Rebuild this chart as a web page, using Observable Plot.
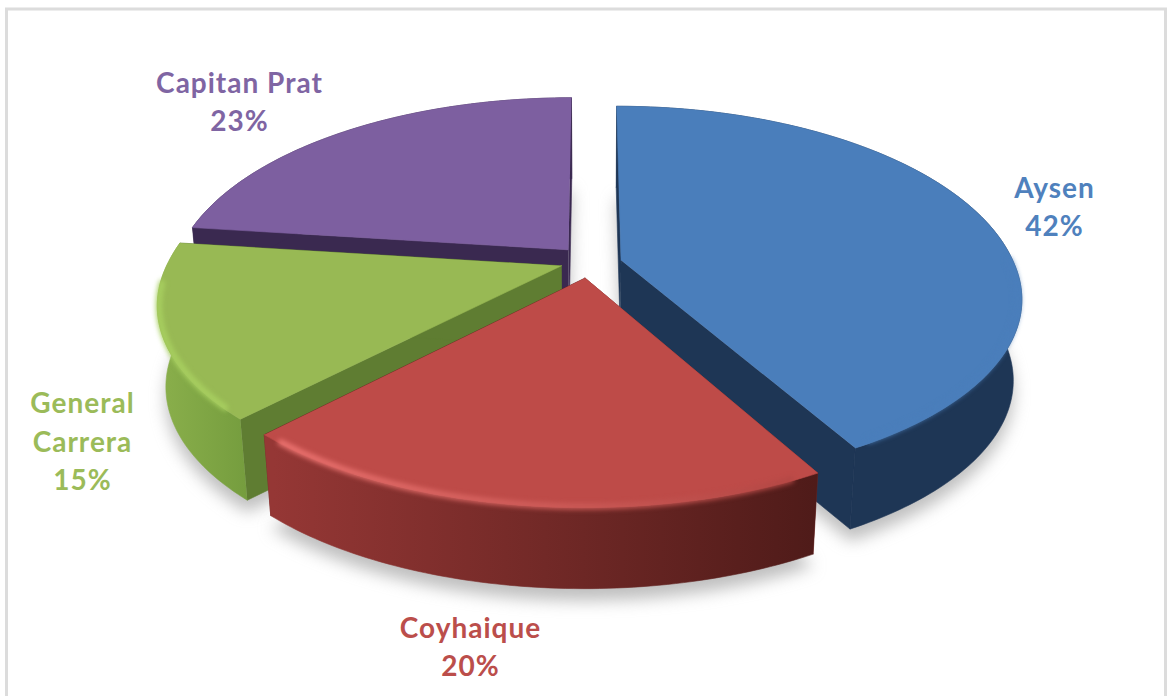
<!DOCTYPE html>
<html>
<head>
<meta charset="utf-8">
<script src="https://cdn.jsdelivr.net/npm/d3@7"></script>
<script src="https://cdn.jsdelivr.net/npm/@observablehq/plot@0.6"></script>
<style>html,body{margin:0;padding:0;background:#fff}svg{display:block}text{letter-spacing:1px}</style>
</head>
<body>
<div id="chart"></div>
<script>
// Data
const names = ["Aysen", "Coyhaique", "General\nCarrera", "Capitan Prat"];
const shares = [42, 20, 15, 23];

// Styles
const faceColors = ["#4a7ebb", "#be4b48", "#98b954", "#7d5fa0"];
const radialColors = ["#1e3655", "#6b2523", "#5f7d32", "#3a2950"];
const wallFills = ["#1e3655", "url(#redWall)", "url(#greenWall)", "#3a2950"];
const rimColors = ["#4a7ebb", "url(#redRim)", "#a8d060", null];
const rimFrom = [0.25, 0.43, 0.63, 1];
const rimTo = [0.413, 0.612, 0.735, 1];
const rimR = [0.99, 0.996, 0.996, 1];
const textColors = ["#4f81bd", "#bb4e4b", "#9bbb59", "#7f65a3"];
const labelX = [1054, 470, 82, 239];
const labelY = [207, 647, 442, 102];

// Layout of the 3D disc
const W = 1170, H = 696;
const cx = 588, cy = 263, R = 393, backS = 186, frontS = 178, k = 0.2, explode = 0.07, depth = 81, taper = 0.98;
const nudgeX = [6, 0, -1, -2];
const nudgeY = [0, 2, -2, -4];

const total = d3.sum(shares);
let run = 0;
const slices = shares.map((v, i) => {
  const start = run / total; run += v;
  return {i, start, end: run / total, mid: (start + run / total) / 2};
});
const dir = f => [Math.sin(2 * Math.PI * f), -Math.cos(2 * Math.PI * f)];
function project(s, f, r, z = 0) {
  const [mu, mv] = dir(s.mid), [u, v] = dir(f);
  const pu = explode * mu + r * u, pv = explode * mv + r * v;
  const d = 1 - k * pv;
  const sx = z ? taper : 1;
  const S = pv < 0 ? backS : frontS;
  return {x: cx + nudgeX[s.i] + sx * R * pu / d, y: cy + nudgeY[s.i] + S * pv / d + z};
}
function arc(s, from, to, r = 1, z = 0) {
  const n = Math.max(2, Math.ceil((to - from) * 360));
  return d3.range(n + 1).map(j => project(s, from + (to - from) * j / n, r, z));
}
const apex = (s, z = 0) => project(s, 0, 0, z);
const poly = (pts, fill, extra = {}) =>
  Plot.line(pts, {x: "x", y: "y", fill, stroke: fill, strokeWidth: 0.6, curve: "linear", ...extra});

const marks = [];
const defs = () => {
  const el = d3.create("svg:defs");
  const grad = (id, x1, x2, a, b) => {
    const g = el.append("linearGradient").attr("id", id).attr("gradientUnits", "userSpaceOnUse")
      .attr("x1", x1).attr("x2", x2).attr("y1", 0).attr("y2", 0);
    g.append("stop").attr("offset", 0).attr("stop-color", a);
    g.append("stop").attr("offset", 1).attr("stop-color", b);
  };
  grad("redWall", 273, 815, "#953735", "#4f1b19");
  grad("greenWall", 155, 260, "#8bb04c", "#729a3c");
  grad("redRim", 273, 815, "#ee7572", "#b04542");
  return el.node();
};
marks.push(defs);

// Frame
marks.push(Plot.rect([{}], {x1: () => 6.5, x2: () => 1165.5, y1: () => 9, y2: () => 720, fill: "none", stroke: "#dcdcdc", strokeWidth: 3}));

// Soft shadow under the slices
for (const s of slices) {
  const pts = [apex(s, depth + 12), ...arc(s, s.start, s.end, 1, depth + 12)];
  marks.push(poly(pts, "#8a8a8a", {fillOpacity: 0.55, strokeWidth: 0, imageFilter: "blur(8px)"}));
}

// Slices, back to front
for (const i of [3, 0, 2, 1]) {
  const s = slices[i];
  for (const f of [s.start, s.end]) {
    marks.push(poly([apex(s), project(s, f, 1), project(s, f, 1, depth), apex(s, depth)], radialColors[i]));
  }
  const topArc = arc(s, s.start, s.end, 1, 0);
  const botArc = arc(s, s.start, s.end, 1, depth);
  marks.push(poly([...topArc, ...botArc.reverse()], wallFills[i]));
  marks.push(poly([apex(s), ...topArc], faceColors[i]));
  if (rimColors[i]) {
    marks.push(Plot.line(arc(s, rimFrom[i], rimTo[i], rimR[i]), {
      x: "x", y: "y", stroke: rimColors[i], strokeWidth: 6, imageFilter: "blur(2.5px)"
    }));
  }
}

// Labels
const labels = slices.map(s => ({
  text: `${names[s.i]}\n${shares[s.i]}%`, x: labelX[s.i], y: labelY[s.i] - 3, color: textColors[s.i]
}));
marks.push(Plot.text(labels, {
  x: "x", y: "y", text: "text", fill: "color", fontSize: 28, fontWeight: 700,
  fontFamily: "Lato", lineHeight: 1.375, textAnchor: "middle", lineAnchor: "middle"
}));

const chart = Plot.plot({
  width: W, height: H, margin: 0,
  x: {type: "linear", domain: [0, W], range: [0, W], axis: null},
  y: {type: "linear", domain: [0, H], range: [0, H], axis: null},
  color: {type: "identity"},
  style: {background: "#fff"},
  marks
});
document.getElementById("chart").append(chart);
</script>
</body>
</html>
